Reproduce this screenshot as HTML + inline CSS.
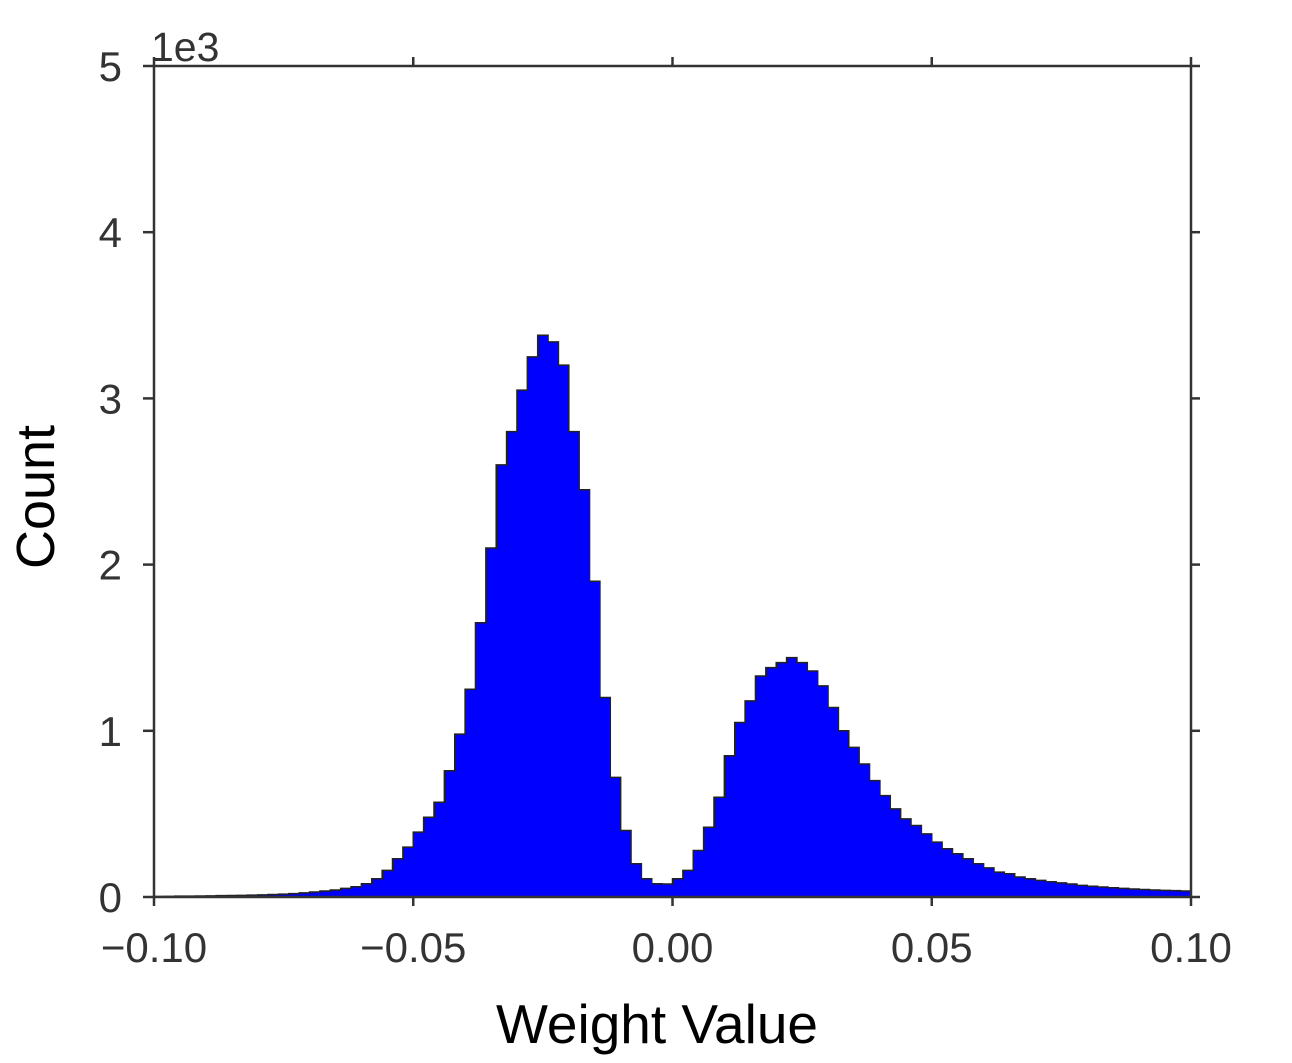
<!DOCTYPE html>
<html><head><meta charset="utf-8"><style>
html,body{margin:0;padding:0;background:#fff;}
svg{display:block;font-family:"Liberation Sans",sans-serif;}
</style></head><body>
<svg id="chart" width="1292" height="1063">
<g id="plot"></g>
<g id="axes"></g>
<text x="151" y="61" font-size="41" fill="#333">1e3</text>
<text transform="translate(54,497) rotate(-90)" text-anchor="middle" font-size="54" fill="#000">Count</text>
<text x="657" y="1043" text-anchor="middle" font-size="55" fill="#000">Weight Value</text>
</svg>
<script>
const binStart = -0.1;
const binWidth = 0.002;
const counts = [3,4,5,5,6,7,8,9,10,11,13,15,17,20,25,30,36,42,52,62,
80,110,160,230,300,390,480,570,760,980,1250,1650,2100,2600,2800,3050,3250,3380,3340,3200,
2800,2450,1900,1200,720,400,200,110,80,78,110,160,280,420,600,850,1050,1180,1330,1380,
1410,1440,1410,1360,1270,1140,1000,900,800,700,610,530,470,430,380,330,290,260,230,200,
175,150,140,120,110,100,92,85,78,70,65,60,56,52,48,45,42,40,38,36];
const xTicks = [-0.1,-0.05,0,0.05,0.1];
const xTickLabels = ["\u22120.10","\u22120.05","0.00","0.05","0.10"];
const yTicks = [0,1000,2000,3000,4000,5000];
const yTickLabels = ["0","1","2","3","4","5"];

const X0=154,X1=1191,Y0=897,Y1=66;
const xs = v => X0 + (v-(-0.1))/0.2*(X1-X0);
const ys = c => Y0 - c/5000*(Y0-Y1);
const NS="http://www.w3.org/2000/svg";
const plot=document.getElementById('plot'), axes=document.getElementById('axes');

let d = `M${xs(binStart)},${Y0}`;
counts.forEach((c,i)=>{
  const a=xs(binStart+i*binWidth), b=xs(binStart+(i+1)*binWidth);
  d += ` L${a},${ys(c)} L${b},${ys(c)}`;
});
d += ` L${xs(binStart+counts.length*binWidth)},${Y0} Z`;
const p=document.createElementNS(NS,'path');
p.setAttribute('d',d);p.setAttribute('fill','#0000ff');p.setAttribute('stroke','#222');p.setAttribute('stroke-width','1.5');


plot.appendChild(p);

function line(x1,y1,x2,y2,name){
  const l=document.createElementNS(NS,'line');
  l.setAttribute('x1',x1);l.setAttribute('y1',y1);l.setAttribute('x2',x2);l.setAttribute('y2',y2);
  l.setAttribute('stroke','#333');l.setAttribute('stroke-width','2.5');
  
  
  axes.appendChild(l);
}
function text(x,y,s,anchor,name){
  const t=document.createElementNS(NS,'text');
  t.setAttribute('x',x);t.setAttribute('y',y);t.setAttribute('text-anchor',anchor);
  t.setAttribute('font-size','42');t.setAttribute('fill','#333');t.textContent=s;
  
  
  axes.appendChild(t);
}
const r=document.createElementNS(NS,'rect');
r.setAttribute('x',X0);r.setAttribute('y',Y1);r.setAttribute('width',X1-X0);r.setAttribute('height',Y0-Y1);
r.setAttribute('fill','none');r.setAttribute('stroke','#333');r.setAttribute('stroke-width','2.5');


axes.appendChild(r);
xTicks.forEach((v,i)=>{
  const x=xs(v);
  line(x,Y0,x,Y0+9,'x-tick');
  line(x,Y1,x,Y1-9,'x-tick-top');
  text(x,962,xTickLabels[i],'middle','x-tick-label');
});
yTicks.forEach((v,i)=>{
  const y=ys(v);
  line(X0,y,X0-11,y,'y-tick');
  line(X1,y,X1+9,y,'y-tick-right');
  text(122,y+15,yTickLabels[i],'end','y-tick-label');
});
</script>
</body></html>
